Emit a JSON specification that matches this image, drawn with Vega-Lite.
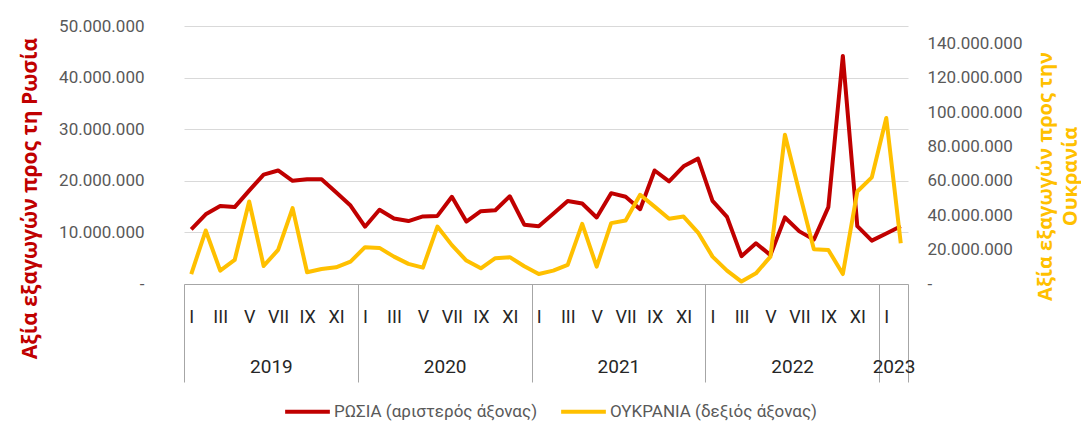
{
  "$schema": "https://vega.github.io/schema/vega-lite/v6.json",
  "width": 724,
  "height": 258,
  "autosize": {"type": "none"},
  "padding": {"left": 184, "top": 26, "right": 173, "bottom": 148},
  "background": "white",
  "config": {"view": {"stroke": null}, "font": "Roboto"},
  "data": {
    "values": [
      {"m": 0, "ru": 10600000, "ua": 5800000},
      {"m": 1, "ru": 13500000, "ua": 31100000},
      {"m": 2, "ru": 15100000, "ua": 7800000},
      {"m": 3, "ru": 14900000, "ua": 14000000},
      {"m": 4, "ru": 18100000, "ua": 48000000},
      {"m": 5, "ru": 21200000, "ua": 10500000},
      {"m": 6, "ru": 22000000, "ua": 19800000},
      {"m": 7, "ru": 20000000, "ua": 44100000},
      {"m": 8, "ru": 20300000, "ua": 6800000},
      {"m": 9, "ru": 20300000, "ua": 8700000},
      {"m": 10, "ru": 17800000, "ua": 9700000},
      {"m": 11, "ru": 15200000, "ua": 13000000},
      {"m": 12, "ru": 11100000, "ua": 21400000},
      {"m": 13, "ru": 14400000, "ua": 21000000},
      {"m": 14, "ru": 12700000, "ua": 15900000},
      {"m": 15, "ru": 12200000, "ua": 11700000},
      {"m": 16, "ru": 13100000, "ua": 9500000},
      {"m": 17, "ru": 13200000, "ua": 33400000},
      {"m": 18, "ru": 16900000, "ua": 22600000},
      {"m": 19, "ru": 12100000, "ua": 13600000},
      {"m": 20, "ru": 14100000, "ua": 9100000},
      {"m": 21, "ru": 14300000, "ua": 15000000},
      {"m": 22, "ru": 17000000, "ua": 15600000},
      {"m": 23, "ru": 11500000, "ua": 10300000},
      {"m": 24, "ru": 11200000, "ua": 5800000},
      {"m": 25, "ru": 13600000, "ua": 7800000},
      {"m": 26, "ru": 16100000, "ua": 11100000},
      {"m": 27, "ru": 15600000, "ua": 35000000},
      {"m": 28, "ru": 12900000, "ua": 10100000},
      {"m": 29, "ru": 17600000, "ua": 35400000},
      {"m": 30, "ru": 16900000, "ua": 36900000},
      {"m": 31, "ru": 14500000, "ua": 51900000},
      {"m": 32, "ru": 22000000, "ua": 45000000},
      {"m": 33, "ru": 19900000, "ua": 37900000},
      {"m": 34, "ru": 22800000, "ua": 39200000},
      {"m": 35, "ru": 24300000, "ua": 29900000},
      {"m": 36, "ru": 16100000, "ua": 15900000},
      {"m": 37, "ru": 13000000, "ua": 7800000},
      {"m": 38, "ru": 5400000, "ua": 1400000},
      {"m": 39, "ru": 7900000, "ua": 6200000},
      {"m": 40, "ru": 5600000, "ua": 15900000},
      {"m": 41, "ru": 12900000, "ua": 86800000},
      {"m": 42, "ru": 10200000, "ua": 53200000},
      {"m": 43, "ru": 8600000, "ua": 20200000},
      {"m": 44, "ru": 14900000, "ua": 19800000},
      {"m": 45, "ru": 44200000, "ua": 5800000},
      {"m": 46, "ru": 11200000, "ua": 53800000},
      {"m": 47, "ru": 8400000, "ua": 62000000},
      {"m": 48, "ru": 9800000, "ua": 96500000},
      {"m": 49, "ru": 11200000, "ua": 23700000}
    ]
  },
  "layer": [
    {
      "mark": {"type": "line", "strokeWidth": 4, "strokeJoin": "round"},
      "encoding": {
        "x": {
          "field": "m", "type": "quantitative",
          "scale": {"domain": [-0.5, 49.5], "nice": false, "zero": false},
          "axis": {
            "orient": "bottom", "title": null,
            "values": [0, 2, 4, 6, 8, 10, 12, 14, 16, 18, 20, 22, 24, 26, 28, 30, 32, 34, 36, 38, 40, 42, 44, 46, 48],
            "labelExpr": "['I','II','III','IV','V','VI','VII','VIII','IX','X','XI','XII'][datum.value % 12]",
            "grid": false, "ticks": false, "domain": true, "domainColor": "#a6a6a6", "domainWidth": 1,
            "labelFlush": false, "labelOverlap": false, "labelBound": false, "labelAngle": 0,
            "labelBaseline": "middle", "labelPadding": 33,
            "labelFont": "Roboto", "labelFontSize": 18, "labelColor": "#262626"
          }
        },
        "y": {
          "field": "ru", "type": "quantitative",
          "scale": {"domain": [0, 50000000], "nice": false, "zero": true},
          "axis": {
            "orient": "left",
            "values": [0, 10000000, 20000000, 30000000, 40000000, 50000000],
            "labelExpr": "datum.value == 0 ? '-' : format(datum.value / 1000000, 'd') + '.000.000'",
            "grid": true, "gridColor": "#d9d9d9", "gridWidth": 1,
            "domain": false, "ticks": false, "labelPadding": 40,
            "labelFont": "Roboto", "labelFontSize": 17, "labelColor": "#595959",
            "title": "Αξία εξαγωγών προς τη Ρωσία",
            "titleFont": "Open Sans", "titleFontWeight": "bold", "titleFontSize": 21, "titleColor": "#C00000",
            "titleAngle": 270, "titleX": -154, "titleY": 172, "titleAlign": "center", "titleBaseline": "middle",
            "titleLimit": 0
          }
        },
        "color": {
          "datum": "RU", "type": "nominal",
          "scale": {"domain": ["RU", "UA"], "range": ["#C00000", "#FFC000"]},
          "legend": {
            "orient": "none", "legendX": 99, "legendY": 361, "direction": "horizontal",
            "title": null, "padding": 0,
            "symbolType": "stroke", "symbolSize": 2000, "symbolStrokeWidth": 4,
            "labelExpr": "datum.value == 'RU' ? 'ΡΩΣΙΑ (αριστερός άξονας)' : 'ΟΥΚΡΑΝΙΑ (δεξιός άξονας)'",
            "labelFont": "Roboto", "labelFontSize": 17, "labelColor": "#595959", "labelLimit": 0,
            "labelOffset": 2, "columnPadding": 15
          }
        }
      }
    },
    {
      "mark": {"type": "line", "strokeWidth": 4, "strokeJoin": "round"},
      "encoding": {
        "x": {
          "field": "m", "type": "quantitative",
          "scale": {"domain": [-0.5, 49.5], "nice": false, "zero": false},
          "axis": {
            "orient": "bottom", "title": null,
            "values": [-0.5, 11.5, 23.5, 35.5, 47.5, 49.5],
            "labels": false, "domain": false, "grid": false,
            "ticks": true, "tickSize": 98, "tickColor": "#a6a6a6", "tickWidth": 1
          }
        },
        "y": {
          "field": "ua", "type": "quantitative",
          "scale": {"domain": [0, 150000000], "nice": false, "zero": true},
          "axis": {
            "orient": "right",
            "values": [0, 20000000, 40000000, 60000000, 80000000, 100000000, 120000000, 140000000],
            "labelExpr": "datum.value == 0 ? '-' : format(datum.value / 1000000, 'd') + '.000.000'",
            "grid": false, "domain": false, "ticks": false, "labelPadding": 19, "labelAlign": "left",
            "labelFont": "Roboto", "labelFontSize": 17, "labelColor": "#595959",
            "title": ["Αξία εξαγωγών προς την", "Ουκρανία"],
            "titleFont": "Open Sans", "titleFontWeight": "bold", "titleFontSize": 20, "titleColor": "#FFC000",
            "titleAngle": 270, "titleX": 137, "titleY": 150, "titleAlign": "center", "titleBaseline": "middle",
            "titleLineHeight": 25, "titleLimit": 0
          }
        },
        "color": {"datum": "UA", "type": "nominal"}
      }
    },
    {
      "mark": {"type": "line", "strokeOpacity": 0},
      "encoding": {
        "x": {
          "field": "m", "type": "quantitative",
          "scale": {"domain": [-0.5, 49.5], "nice": false, "zero": false},
          "axis": {
            "orient": "bottom", "title": null,
            "values": [5.5, 17.5, 29.5, 41.5, 48.5],
            "labelExpr": "'' + (2019 + floor(datum.value / 12))",
            "domain": false, "ticks": false, "grid": false,
            "labelFlush": false, "labelOverlap": false, "labelBound": false, "labelAngle": 0,
            "labelBaseline": "middle", "labelPadding": 82,
            "labelFont": "Roboto", "labelFontSize": 19, "labelColor": "#262626"
          }
        },
        "y": {"field": "ru", "type": "quantitative", "axis": null}
      }
    }
  ],
  "resolve": {"scale": {"x": "independent", "y": "independent"}}
}
